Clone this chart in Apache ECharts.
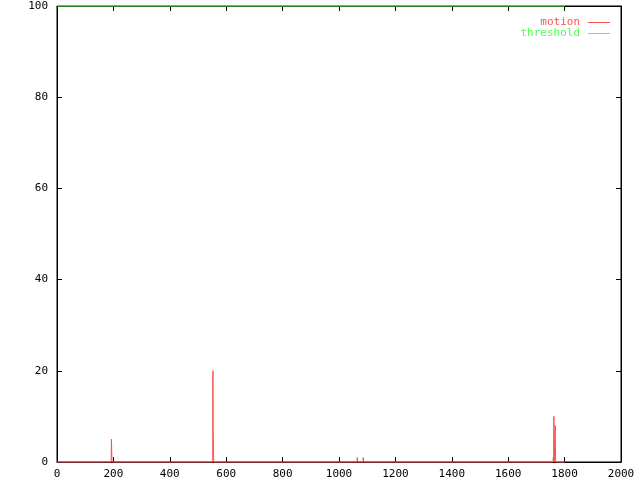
<!DOCTYPE html>
<html>
<head>
<meta charset="utf-8">
<script src="https://cdn.jsdelivr.net/npm/echarts@6/dist/echarts.min.js"></script>
<style>html,body{margin:0;padding:0;background:#fff}#c{width:640px;height:480px}</style>
</head>
<body>
<div id="c"></div>
<script>
var motionX = [0, 192, 193, 194, 195, 552, 553, 554, 555, 556, 1064, 1065, 1066, 1085, 1086, 1087, 1759, 1760, 1761, 1762, 1763, 1766, 1767, 1768, 1800];
var motionY = [0, 0, 5, 5, 0, 0, 20, 6, 6, 0, 0, 1, 0, 0, 1, 0, 0, 1, 0, 10, 0, 0, 8, 0, 0];
var thresholdX = [0, 1800];
var thresholdY = [100, 100];
var xTicks = [0, 200, 400, 600, 800, 1000, 1200, 1400, 1600, 1800, 2000];
var yTicks = [0, 20, 40, 60, 80, 100];

function pairs(xs, ys) { return xs.map(function (x, i) { return [x, ys[i]]; }); }

var RED = '#ff5050', GREEN = '#50ff50';
var font = 'DejaVu Sans Mono';
var chart = echarts.init(document.getElementById('c'), null, {renderer: 'canvas'});
function axisCommon() {
  return {
    type: 'value',
    axisLine: {show: true, onZero: false, lineStyle: {color: '#000', width: 1}},
    axisTick: {show: true, inside: true, length: 5, lineStyle: {color: '#000'}},
    splitLine: {show: false}
  };
}
chart.setOption({
  animation: false,
  backgroundColor: '#fff',
  grid: {left: 57, right: 19, top: 6, bottom: 18, show: true, borderColor: '#000', borderWidth: 1, containLabel: false},
  legend: {
    orient: 'vertical', right: 30, top: 17, align: 'right', padding: 0,
    itemWidth: 22, itemHeight: 1, itemGap: 0, icon: 'rect',
    textStyle: {fontFamily: font, fontSize: 11, lineHeight: 11, padding: [0, 3, 0, 0]},
    data: [
      {name: 'motion', textStyle: {color: RED}, itemStyle: {color: RED}},
      {name: 'threshold', textStyle: {color: GREEN}, itemStyle: {color: GREEN}}
    ]
  },
  xAxis: [
    Object.assign(axisCommon(), {
      position: 'bottom', min: xTicks[0], max: xTicks[xTicks.length - 1], interval: 200,
      axisLabel: {color: '#000', fontFamily: font, fontSize: 11, margin: 7, formatter: function (v) { return String(v); }}
    }),
    Object.assign(axisCommon(), {
      position: 'top', min: xTicks[0], max: xTicks[xTicks.length - 1], interval: 200,
      axisLabel: {show: false}
    })
  ],
  yAxis: [
    Object.assign(axisCommon(), {
      position: 'left', min: yTicks[0], max: yTicks[yTicks.length - 1], interval: 20,
      axisLabel: {color: '#000', fontFamily: font, fontSize: 11, margin: 9, formatter: function (v) { return String(v); }}
    }),
    Object.assign(axisCommon(), {
      position: 'right', min: yTicks[0], max: yTicks[yTicks.length - 1], interval: 20,
      axisLabel: {show: false}
    })
  ],
  series: [
    {name: 'motion', type: 'line', data: pairs(motionX, motionY), showSymbol: false, symbol: 'none',
     lineStyle: {color: RED, width: 1}, itemStyle: {color: RED}, clip: false, z: 5},
    {name: 'threshold', type: 'line', data: pairs(thresholdX, thresholdY), showSymbol: false, symbol: 'none',
     lineStyle: {color: GREEN, width: 1}, itemStyle: {color: GREEN}, clip: false, z: 5}
  ]
});
</script>
</body>
</html>
